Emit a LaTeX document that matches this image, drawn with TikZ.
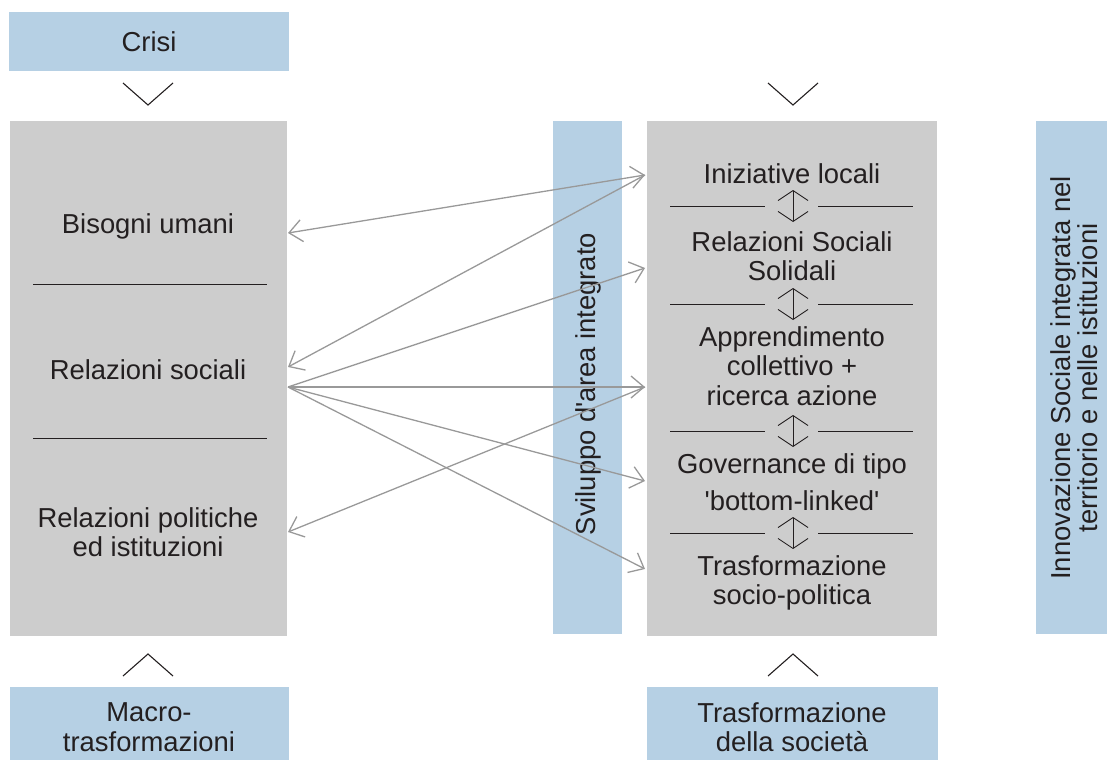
\documentclass[tikz,border=0pt]{standalone}
\usepackage{fontspec}
\setmainfont{Liberation Sans}
\usetikzlibrary{arrows.meta}
\definecolor{boxgray}{HTML}{CDCDCD}
\definecolor{boxblue}{HTML}{B6D0E4}
\definecolor{txt}{HTML}{231F20}
\definecolor{conncol}{HTML}{999999}
\begin{document}
\begin{tikzpicture}[x=1pt,y=-1pt,
  panel/.style={fill=boxgray, draw=none, inner sep=0pt, anchor=north west},
  band/.style={fill=boxblue, draw=none, inner sep=0pt, anchor=north west},
  lbl/.style={text=txt, font=\fontsize{27.4}{29.5}\selectfont, align=center, inner sep=0pt},
  chev/.style={draw=txt, line width=1.1pt},
  conn/.style={draw=conncol, line width=1.3pt},
  head/.tip={Straight Barb[length=13pt,width=22pt]},
  sepline/.style={draw=txt, line width=0.9pt},
  dbl/.style={draw=txt, line width=0.9pt, {Straight Barb[length=10pt,width=30pt]}-{Straight Barb[length=10pt,width=30pt]}},
]
\useasboundingbox (0,0) rectangle (1107,760);

% boxes
\node[band, minimum width=280pt, minimum height=59pt] (crisibox) at (9,12) {};
\node[panel, minimum width=277pt, minimum height=515pt] (left) at (10,121) {};
\node[band, minimum width=69pt, minimum height=513pt] (svil) at (553,121) {};
\node[panel, minimum width=290pt, minimum height=515pt] (right) at (647,121) {};
\node[band, minimum width=71pt, minimum height=513pt] (innov) at (1036,121) {};
\node[band, minimum width=279pt, minimum height=73pt] (macro) at (10,687) {};
\node[band, minimum width=291pt, minimum height=73pt] (soc) at (647,687) {};

% chevrons
\coordinate (c1a) at (123,83); \coordinate (c1b) at (148,105); \coordinate (c1c) at (173,83);
\coordinate (c2a) at (768,83); \coordinate (c2b) at (793,105); \coordinate (c2c) at (818,83);
\coordinate (c3a) at (123,676); \coordinate (c3b) at (148,654); \coordinate (c3c) at (173,676);
\coordinate (c4a) at (768,676); \coordinate (c4b) at (793,654); \coordinate (c4c) at (818,676);
\draw[chev] (c1a) -- (c1b) -- (c1c);
\draw[chev] (c2a) -- (c2b) -- (c2c);
\draw[chev] (c3a) -- (c3b) -- (c3c);
\draw[chev] (c4a) -- (c4b) -- (c4c);

% labels in blue boxes
\node[lbl] (crisi) at (149,42) {Crisi};
\node[lbl] (macrot) at (149,727) {Macro-\\trasformazioni};
\node[lbl] (soct) at (792,727) {Trasformazione\\della società};
\node[lbl, rotate=90] (svilt) at (588,384) {Sviluppo d\textquotesingle area integrato};
\node[lbl, rotate=90, font=\fontsize{27.4}{27}\selectfont] (innovt) at (1074,378) {Innovazione Sociale integrata nel\\territorio e nelle istituzioni};

% left panel
\node[lbl] (bis) at (148,226) {Bisogni umani};
\node[lbl] (rel) at (148,370) {Relazioni sociali};
\node[lbl] (pol) at (148,532) {Relazioni politiche\\ed istituzioni};
\coordinate (s1a) at (33,284); \coordinate (s1b) at (267,284);
\coordinate (s2a) at (33,438); \coordinate (s2b) at (267,438);
\draw[sepline] (s1a) -- (s1b);
\draw[sepline] (s2a) -- (s2b);

% right panel
\node[lbl] (ini) at (792,174) {Iniziative locali};
\node[lbl] (sol) at (792,256) {Relazioni Sociali\\Solidali};
\node[lbl] (app) at (792,366) {Apprendimento\\collettivo +\\ricerca azione};
\node[lbl] (gov) at (792,482) {Governance di tipo\\[7pt]\textquotesingle bottom-linked\textquotesingle};
\node[lbl] (tra) at (792,583) {Trasformazione\\socio-politica};

\foreach \yy/\nm in {206/a,304/b,431/c,533/d}{
  \coordinate (hl\nm1) at (670,\yy); \coordinate (hl\nm2) at (765,\yy);
  \coordinate (hr\nm1) at (818,\yy); \coordinate (hr\nm2) at (913,\yy);
  \coordinate (vt\nm) at (793,\yy-16); \coordinate (vb\nm) at (793,\yy+16);
  \draw[sepline] (hl\nm1) -- (hl\nm2);
  \draw[sepline] (hr\nm1) -- (hr\nm2);
  \draw[dbl] (vt\nm) -- (vb\nm);
}

% connector end points
\coordinate (Lbis) at (288,233);
\coordinate (LrelA) at (288,367);
\coordinate (LrelB) at (288,387);
\coordinate (Lpol) at (288,532);
\coordinate (Rini) at (645,175);
\coordinate (Rsol) at (645,268);
\coordinate (Rapp) at (645,387);
\coordinate (Rgov) at (645,481);
\coordinate (Rtra) at (645,569);

\draw[conn, head-head] (Rini) -- (Lbis);
\draw[conn, -head] (Rini) -- (LrelA);
\draw[conn, -head] (LrelB) -- (Rsol);
\draw[conn, -head] (LrelB) -- (Rapp);
\draw[conn, -head] (LrelB) -- (Rgov);
\draw[conn, -head] (LrelB) -- (Rtra);
\draw[conn, -head] (Rapp) -- (Lpol);
\end{tikzpicture}
\end{document}
